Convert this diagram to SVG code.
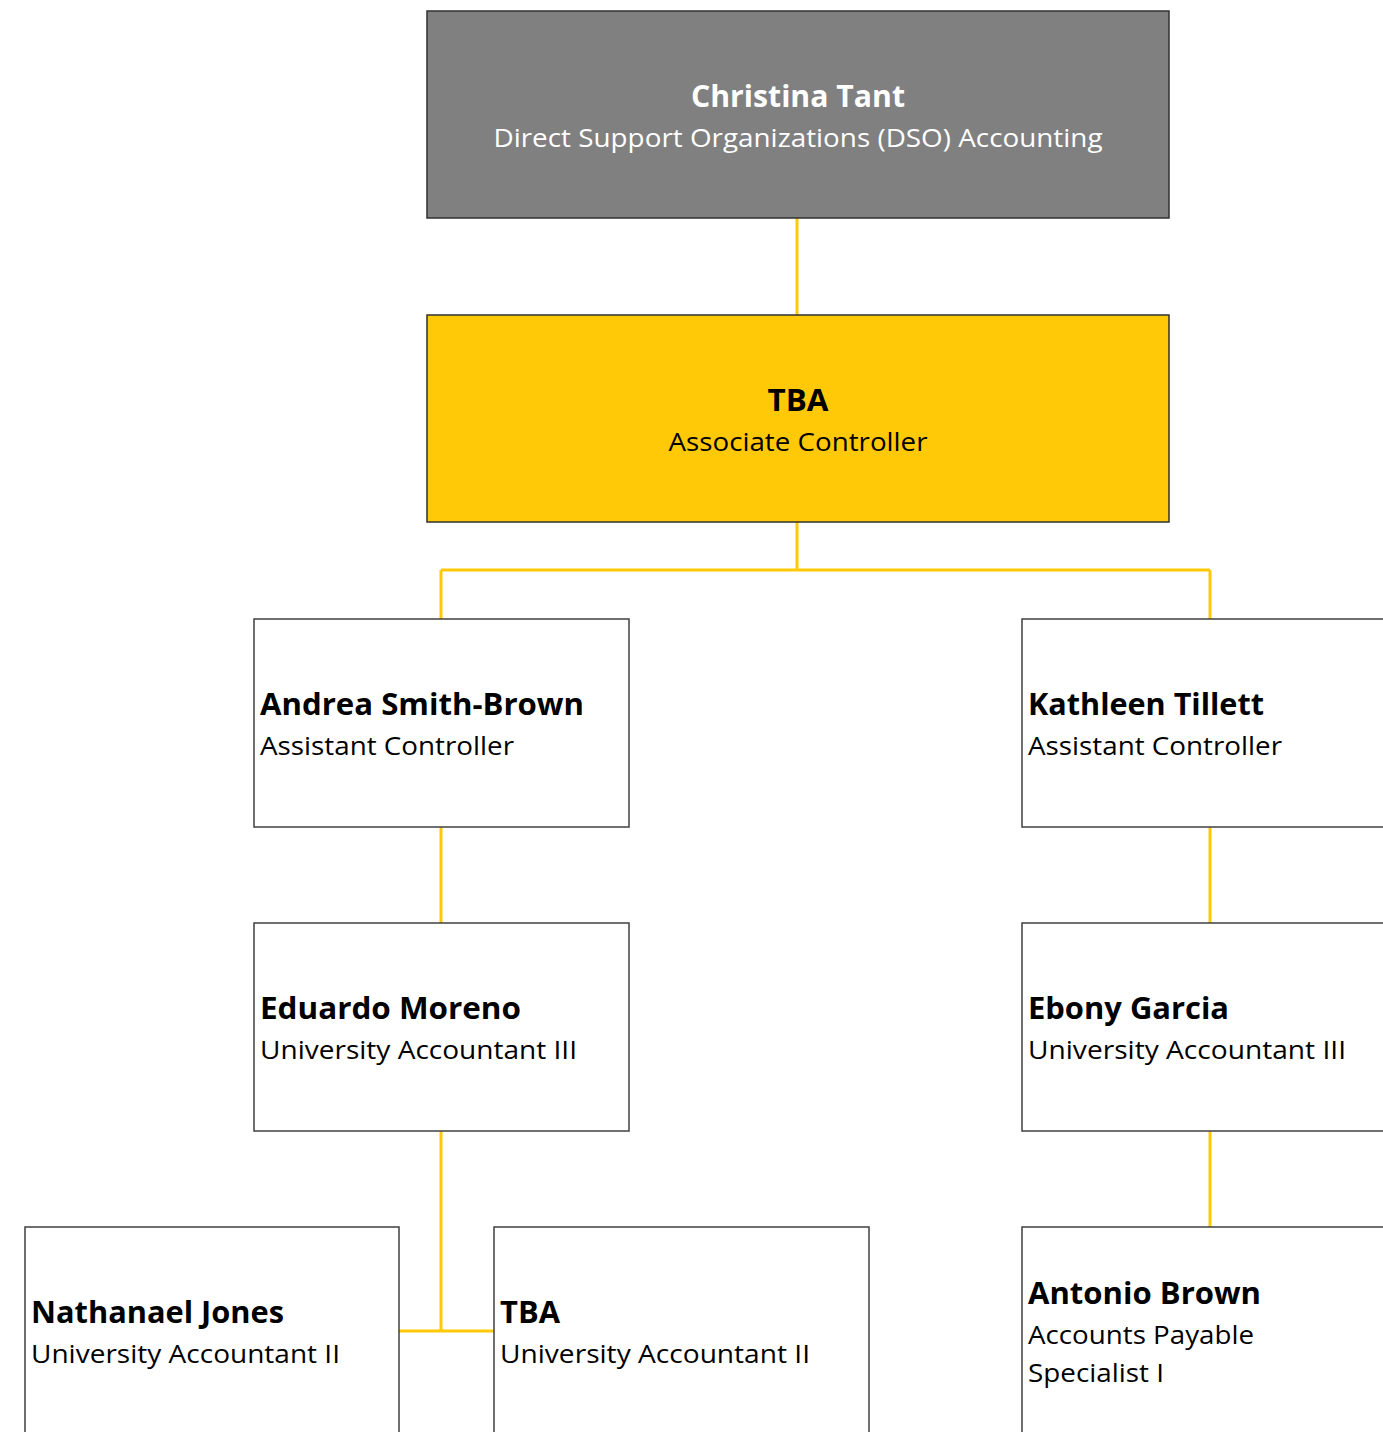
<svg xmlns="http://www.w3.org/2000/svg" width="1383" height="1432" viewBox="0 0 1383 1432">
<style>
.box{fill:#ffffff;stroke:#404040;stroke-width:1.5}
.gray{fill:#808080;stroke:#303030;stroke-width:1.5}
.yel{fill:#FFC907;stroke:#303030;stroke-width:1.5}
.name{font-family:"Open Sans","Noto Sans",sans-serif;font-weight:bold;font-size:30px;fill:#000}
.title{font-family:"Open Sans","Noto Sans",sans-serif;font-size:26px;fill:#000}
.w{fill:#ffffff}
.c{text-anchor:middle}
.conn{stroke:#FFC907;stroke-width:3;fill:none}
</style>
<rect width="1383" height="1432" fill="#ffffff"/>
<g id="connectors">
<path class="conn" d="M797,218 V315"/>
<path class="conn" d="M797,522 V570 M441,570 H1210 M441,570 V619 M1210,570 V619"/>
<path class="conn" d="M441,827 V923"/>
<path class="conn" d="M1210,827 V923"/>
<path class="conn" d="M441,1131 V1331 M399,1331 H494"/>
<path class="conn" d="M1210,1131 V1227"/>
</g>
<g id="node-christina">
<rect class="gray" x="427" y="11" width="742" height="207"/>
<text class="name w c" x="798" y="107" textLength="214" lengthAdjust="spacingAndGlyphs">Christina Tant</text>
<text class="title w c" x="798" y="147" textLength="609" lengthAdjust="spacingAndGlyphs">Direct Support Organizations (DSO) Accounting</text>
</g>
<g id="node-tba-associate">
<rect class="yel" x="427" y="315" width="742" height="207"/>
<text class="name c" x="798" y="411" textLength="61" lengthAdjust="spacingAndGlyphs">TBA</text>
<text class="title c" x="798" y="451" textLength="259" lengthAdjust="spacingAndGlyphs">Associate Controller</text>
</g>
<g id="node-andrea">
<rect class="box" x="254" y="619" width="375" height="208"/>
<text class="name" x="260" y="715" textLength="324" lengthAdjust="spacingAndGlyphs">Andrea Smith-Brown</text>
<text class="title" x="260" y="755" textLength="254" lengthAdjust="spacingAndGlyphs">Assistant Controller</text>
</g>
<g id="node-kathleen">
<rect class="box" x="1022" y="619" width="375" height="208"/>
<text class="name" x="1028" y="715" textLength="236" lengthAdjust="spacingAndGlyphs">Kathleen Tillett</text>
<text class="title" x="1028" y="755" textLength="254" lengthAdjust="spacingAndGlyphs">Assistant Controller</text>
</g>
<g id="node-eduardo">
<rect class="box" x="254" y="923" width="375" height="208"/>
<text class="name" x="260" y="1019" textLength="261" lengthAdjust="spacingAndGlyphs">Eduardo Moreno</text>
<text class="title" x="260" y="1059" textLength="317" lengthAdjust="spacingAndGlyphs">University Accountant III</text>
</g>
<g id="node-ebony">
<rect class="box" x="1022" y="923" width="375" height="208"/>
<text class="name" x="1028" y="1019" textLength="201" lengthAdjust="spacingAndGlyphs">Ebony Garcia</text>
<text class="title" x="1028" y="1059" textLength="318" lengthAdjust="spacingAndGlyphs">University Accountant III</text>
</g>
<g id="node-nathanael">
<rect class="box" x="25" y="1227" width="374" height="220"/>
<text class="name" x="31" y="1323" textLength="253" lengthAdjust="spacingAndGlyphs">Nathanael Jones</text>
<text class="title" x="31" y="1363" textLength="309" lengthAdjust="spacingAndGlyphs">University Accountant II</text>
</g>
<g id="node-tba-ua2">
<rect class="box" x="494" y="1227" width="375" height="220"/>
<text class="name" x="500" y="1323" textLength="60" lengthAdjust="spacingAndGlyphs">TBA</text>
<text class="title" x="500" y="1363" textLength="310" lengthAdjust="spacingAndGlyphs">University Accountant II</text>
</g>
<g id="node-antonio">
<rect class="box" x="1022" y="1227" width="375" height="220"/>
<text class="name" x="1028" y="1304" textLength="233" lengthAdjust="spacingAndGlyphs">Antonio Brown</text>
<text class="title" x="1028" y="1344" textLength="226" lengthAdjust="spacingAndGlyphs">Accounts Payable</text>
<text class="title" x="1028" y="1382" textLength="136" lengthAdjust="spacingAndGlyphs">Specialist I</text>
</g>
</svg>
